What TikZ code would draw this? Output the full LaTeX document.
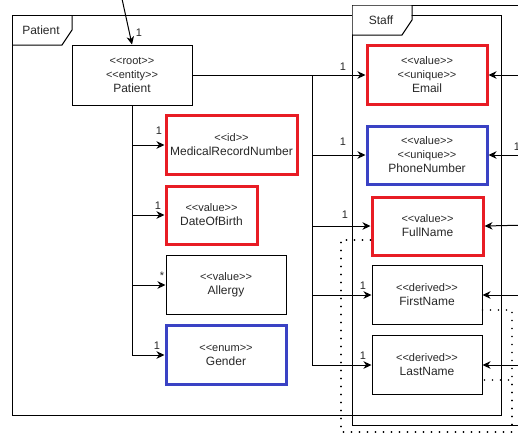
\documentclass[tikz,border=0pt]{standalone}
\usepackage{fontspec}
\setmainfont{Liberation Sans}
\usetikzlibrary{arrows.meta}
\definecolor{boxred}{RGB}{232,28,36}
\definecolor{boxblue}{RGB}{58,66,196}
\definecolor{txt}{RGB}{40,40,40}
\newcommand\stereo[1]{{\fontsize{11}{14}\selectfont <\kern0pt<#1>\kern0pt>}}
\tikzset{
  cls/.style={draw, line width=1pt, fill=white, align=center, inner sep=0pt,
    font=\fontsize{12}{14}\selectfont, text=txt},
  redbox/.style={cls, draw=boxred, line width=3pt},
  bluebox/.style={cls, draw=boxblue, line width=3pt},
  frame/.style={line width=1pt},
  framelbl/.style={font=\fontsize{12}{14}\selectfont, inner sep=0pt, text=txt},
  lbl/.style={font=\fontsize{11}{13}\selectfont, inner sep=0pt, text=txt},
  conn/.style={line width=1pt, -{Stealth[length=8pt,width=7.5pt,inset=2.5pt]}},
  dotline/.style={line width=1.8pt, line cap=round, dash pattern=on 0pt off 8pt}
}
\begin{document}
\begin{tikzpicture}[x=1pt,y=-1pt]
\clip (0,0) rectangle (518,439);
% Patient frame
\draw[frame] (12,15) rectangle (501,415);
\draw[frame] (12,45) -- (62,45) -- (72,30) -- (72,15);
\node[framelbl] (ptab) at (41,30) {Patient};
% Staff frame
\draw[frame] (530,5) -- (352,5) -- (352,425) -- (530,425);
\fill[white] (352.5,5.5) -- (352.5,34.5) -- (402,34.5) -- (411.5,20) -- (411.5,5.5) -- cycle;
\draw[frame] (352,35) -- (402,35) -- (412,20) -- (412,5);
\node[framelbl] (stab) at (381,20) {Staff};

% boxes
\node[cls, minimum width=120pt, minimum height=60pt] (patient) at (132,75)
  {\stereo{root}\\\stereo{entity}\\Patient};
\node[redbox, minimum width=131pt, minimum height=59pt] (mrn) at (231.5,145)
  {\stereo{id}\\MedicalRecordNumber};
\node[redbox, minimum width=91pt, minimum height=58pt] (dob) at (211.5,215)
  {\stereo{value}\\DateOfBirth};
\node[cls, minimum width=120pt, minimum height=59pt] (allergy) at (226,285)
  {\stereo{value}\\Allergy};
\node[bluebox, minimum width=120pt, minimum height=59pt] (gender) at (226,355)
  {\stereo{enum}\\Gender};
\node[redbox, minimum width=120pt, minimum height=59pt] (email) at (427,75)
  {\stereo{value}\\\stereo{unique}\\Email};
\node[bluebox, minimum width=120pt, minimum height=58pt] (phone) at (427,155)
  {\stereo{value}\\\stereo{unique}\\PhoneNumber};
\node[redbox, minimum width=111pt, minimum height=58pt] (fullname) at (427.5,226)
  {\stereo{value}\\FullName};
\node[cls, minimum width=110pt, minimum height=59pt] (firstname) at (427,295)
  {\stereo{derived}\\FirstName};
\node[cls, minimum width=110pt, minimum height=59pt] (lastname) at (427,365)
  {\stereo{derived}\\LastName};

% incoming arrow at top
\coordinate (topin) at (120.5,-8);
\draw[conn] (topin) -- (patient.north);
\node[lbl] (l0) at (139,33) {1};

% Patient children
\draw[conn] (patient.south) |- (mrn.west);
\draw[conn] (patient.south) |- (dob.west);
\draw[conn] (patient.south) |- (allergy.west);
\draw[conn] (patient.south) |- (gender.west);
\node[lbl] (l1) at (159,131) {1};
\node[lbl] (l2) at (158,206) {1};
\node[lbl] (l3) at (162,276) {*};
\node[lbl] (l4) at (157,346) {1};

% Patient to Staff
\draw[conn] (patient.east) -- (email.west);
\draw[conn] (patient.east) -- ++(120,0) |- (phone.west);
\draw[conn] (patient.east) -- ++(120,0) |- (fullname.west);
\draw[conn] (patient.east) -- ++(120,0) |- (firstname.west);
\draw[conn] (patient.east) -- ++(120,0) |- (lastname.west);
\node[lbl] (l5) at (343,67) {1};
\node[lbl] (l6) at (343,142) {1};
\node[lbl] (l7) at (345,215) {1};
\node[lbl] (l8) at (363,286) {1};
\node[lbl] (l9) at (363,356) {1};

% incoming from the right
\coordinate (r1) at (530,75);
\coordinate (r2) at (530,155);
\coordinate (r3) at (530,225);
\coordinate (r4) at (530,295);
\coordinate (r5) at (530,365);
\draw[conn] (r1) -- (email.east);
\draw[conn] (r2) -- (phone.east);
\draw[conn] (r3) -- (fullname.east);
\draw[conn] (r4) -- (firstname.east);
\draw[conn] (r5) -- (lastname.east);
\node[lbl] (l10) at (517,147) {1};

% dotted derivation links
\draw[dotline] ([yshift=-14pt]fullname.west) -| (341,432) -| (512,310) -- ([yshift=-15pt]firstname.east);
\draw[dotline] ([yshift=-14pt]fullname.west) -| (341,432) -| (512,380) -- ([yshift=-15pt]lastname.east);
\end{tikzpicture}
\end{document}
